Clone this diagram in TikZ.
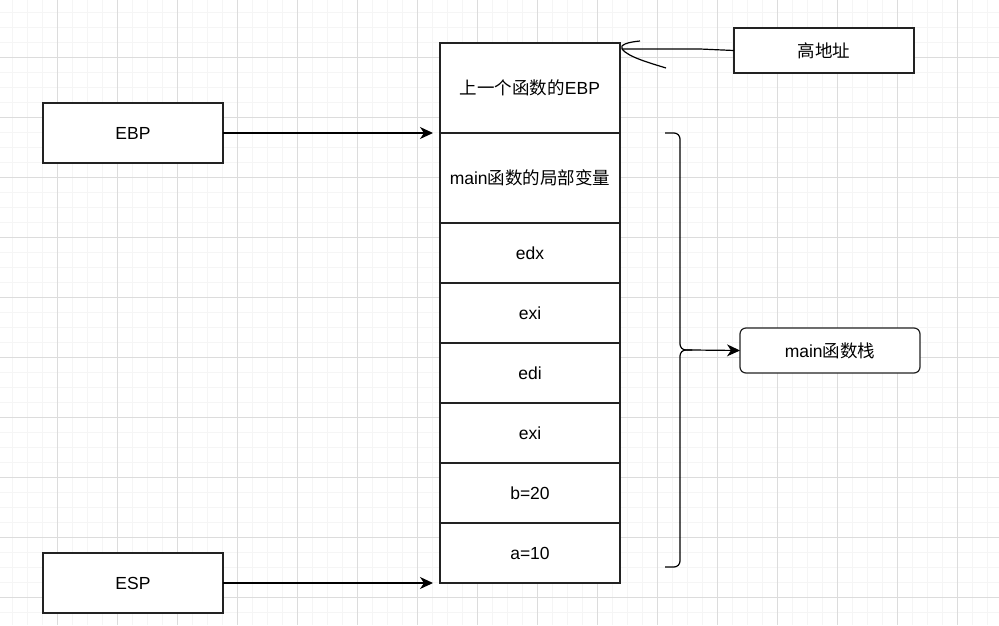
\documentclass[tikz,border=0pt]{standalone}
\usepackage{fontspec}
\setmainfont{Liberation Sans}
\newfontfamily\cjk{Noto Sans CJK SC}
\usetikzlibrary{arrows.meta,positioning}
\definecolor{gridmajor}{HTML}{DCDCDC}
\definecolor{gridminor}{HTML}{F5F5F5}
\definecolor{edge}{HTML}{222222}
\tikzset{
  cell/.style={draw=edge,fill=white,line width=1.2pt,minimum width=180pt,minimum height=60pt,inner sep=0pt,outer sep=0pt,align=center,font=\fontsize{17.5}{20}\selectfont},
  tallcell/.style={cell,minimum height=90pt},
  note/.style={cell,minimum height=45pt},
  roundnote/.style={note,rounded corners=6pt},
  link/.style={draw=black,line width=1.2pt},
  pointer/.style={link,-{Stealth[length=13pt,width=12pt,inset=4pt]}},
  minorline/.style={gridminor,line width=1pt},
  majorline/.style={gridmajor,line width=1pt}
}

\begin{document}
\begin{tikzpicture}[x=1pt,y=-1pt]
  \useasboundingbox (0,0) rectangle (999,625);
  \fill[white] (0,0) rectangle (999,625);
  % grid
  \foreach \gx in {12,27,...,999} \draw[minorline] (\gx,0) -- (\gx,625);
  \foreach \gy in {12,27,...,625} \draw[minorline] (0,\gy) -- (999,\gy);
  \foreach \gx in {57,117,...,999} \draw[majorline] (\gx,0) -- (\gx,625);
  \foreach \gy in {57,117,...,625} \draw[majorline] (0,\gy) -- (999,\gy);

  % stack
  \node[tallcell] (prev) at (530,88) {{\cjk 上一个函数的}EBP};
  \node[tallcell] (local) at (530,178) {main{\cjk 函数的局部变量}};
  \node[cell] (edx) at (530,253) {edx};
  \node[cell] (exione) at (530,313) {exi};
  \node[cell] (edi) at (530,373) {edi};
  \node[cell] (exitwo) at (530,433) {exi};
  \node[cell] (b) at (530,493) {b=20};
  \node[cell] (a) at (530,553) {a=10};

  % registers
  \node[cell] (ebp) at (133,133) {EBP};
  \node[cell] (esp) at (133,583) {ESP};
  \draw[pointer,shorten >=7pt] (ebp.east) -- (local.north west);
  \draw[pointer,shorten >=7pt] (esp.east) -- (a.south west);

  % high address
  \node[note] (hi) at (824,50.5) {\cjk 高地址};
  \coordinate (hitip) at (622,49);
  \draw[link] (hi.west) -- (700,49) -- (hitip);
  \draw[link] (640,41) .. controls (628,42) and (619,45) .. (hitip);
  \draw[link] (hitip) .. controls (628,57) and (650,63) .. (666,68);

  % brace
  \coordinate (bracetip) at (692,350);
  \draw[link,rounded corners=6pt] (665,133) -- (680,133) -- (680,350) -- (bracetip);
  \draw[link,rounded corners=6pt] (665,567) -- (680,567) -- (680,350) -- (bracetip);
  \node[roundnote] (mainstk) at (830,350.5) {main{\cjk 函数栈}};
  \draw[pointer] (bracetip) -- (mainstk.west);
\end{tikzpicture}
\end{document}
